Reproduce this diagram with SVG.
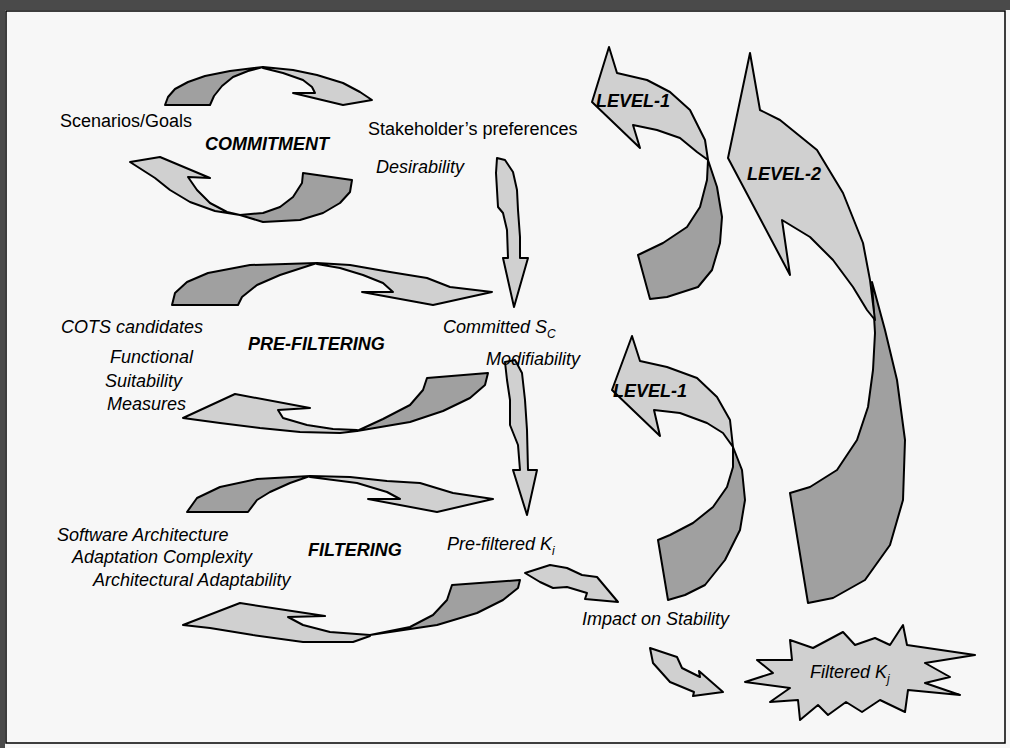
<svg xmlns="http://www.w3.org/2000/svg" width="1010" height="748" viewBox="0 0 1010 748">
<style>
.d{fill:#a0a0a0;stroke:#000;stroke-width:2;stroke-linejoin:round}
.l{fill:#d0d0d0;stroke:#000;stroke-width:2;stroke-linejoin:round}
text{font-family:"Liberation Sans",Arial,sans-serif;font-size:18px;fill:#000}
.i{font-style:italic}
.b{font-weight:bold;font-style:italic}
.s{font-size:12px}
</style>
<rect x="0" y="0" width="1010" height="748" fill="#f7f7f7"/>
<rect x="0" y="0" width="1010" height="10" fill="#4a4a4a"/>
<rect x="0" y="0" width="5" height="748" fill="#4a4a4a"/>
<rect x="6" y="11" width="999" height="732" fill="none" stroke="#000" stroke-width="1.5"/>

<g id="commitment-cycle">
<polygon class="d" points="165,105 168,97 175,89 188,82 205,76 230,71 263,67 248,71 233,77 222,86 214,96 210,105"/>
<polygon class="l" points="263,67 293,70 317,75 343,83 360,92 372,100 343,105 293,93 315,93 312,87 303,80 283,73 263,68"/>
<polygon class="d" points="303,173 352,180 350,192 340,203 323,213 300,220 263,222 240,215 263,213 280,207 293,197 302,183"/>
<polygon class="l" points="240,215 215,211 190,202 170,190 155,178 130,162 160,157 210,178 188,177 197,190 210,203 227,212 240,215"/>
</g>

<g id="prefiltering-cycle">
<polygon class="d" points="172,305 175,293 187,282 208,273 250,265 317,263 280,275 257,285 242,297 238,305"/>
<polygon class="l" points="317,263 350,265 390,272 427,278 450,287 492,292 433,305 362,292 393,292 383,283 363,275 340,268 317,264"/>
<polygon class="d" points="427,378 488,373 485,385 470,398 443,411 410,422 357,431 383,419 410,405 423,390"/>
<polygon class="l" points="357,431 340,433 300,432 260,428 220,423 183,418 235,394 310,408 278,410 283,418 307,425 333,429 357,430"/>
</g>

<g id="filtering-cycle">
<polygon class="d" points="187,512 197,498 220,487 257,479 310,476 290,483 270,492 257,500 248,512"/>
<polygon class="l" points="310,476 350,477 387,481 420,483 453,493 493,499 437,512 368,499 400,499 387,492 357,483 310,477"/>
<polygon class="d" points="452,585 520,580 518,588 503,600 477,613 437,625 370,635 410,627 433,615 447,600"/>
<polygon class="l" points="370,636 353,642 303,642 253,635 210,628 183,625 240,603 325,616 288,617 303,625 330,632 370,635"/>
</g>

<g id="connectors">
<polygon id="arrow-desirability" class="l" points="497,158 505,160 513,172 517,190 518,210 520,237 520,258 528,258 514,307 503,258 508,258 507,230 503,213 498,207 497,190 496,173"/>
<polygon id="arrow-modifiability" class="l" points="505,362 515,360 522,373 525,400 527,430 528,470 537,470 527,515 513,470 520,470 518,445 510,425 510,400 507,380"/>
<polygon id="arrow-impact-in" class="l" points="525,573 550,565 567,568 582,575 597,577 618,602 585,599 587,593 567,587 553,588 540,582"/>
<polygon id="arrow-impact-out" class="l" points="650,648 677,657 682,668 700,677 699,671 723,692 693,696 694,692 670,682 653,663"/>
</g>

<g id="level1-top">
<polygon class="d" points="708,160 717,187 722,217 720,243 712,270 698,287 667,297 650,299 638,255 663,243 687,227 700,207 707,180"/>
<polygon class="l" points="609,47 617,73 647,80 670,92 690,110 705,140 708,160 697,152 680,138 657,130 633,125 640,148 592,102"/>
<text class="b" x="596" y="107">LEVEL-1</text>
</g>

<g id="level2">
<polygon class="d" points="872,282 885,330 897,380 905,440 903,500 890,545 865,580 833,598 808,603 790,493 810,487 837,470 857,440 868,407 873,370 875,333"/>
<polygon class="l" points="750,53 760,110 780,120 817,150 843,193 863,243 870,280 875,320 867,310 853,287 833,260 810,237 782,220 790,275 728,158"/>
<text class="b" x="747" y="180">LEVEL-2</text>
</g>

<g id="level1-bottom">
<polygon class="d" points="733,447 742,470 745,500 740,530 725,560 705,585 685,595 668,600 658,540 670,535 693,523 713,507 727,487 733,467"/>
<polygon class="l" points="632,336 640,361 667,367 697,378 717,397 730,420 733,447 723,433 707,423 680,413 654,410 660,436 612,390"/>
<text class="b" x="613" y="397">LEVEL-1</text>
</g>

<g id="filtered-kj">
<polygon class="l" points="790,640 813,648 843,632 855,645 875,638 890,645 903,625 907,645 975,655 925,663 950,677 925,683 960,695 908,690 905,712 880,700 862,712 846,702 828,715 818,705 800,720 798,700 770,702 790,688 745,682 773,673 757,660 792,660"/>
<text class="i" x="810" y="678" fill="#222">Filtered K<tspan class="s" dy="5">j</tspan></text>
</g>

<g id="labels">
<text x="60" y="127">Scenarios/Goals</text>
<text class="b" x="205" y="150">COMMITMENT</text>
<text x="368" y="135">Stakeholder’s preferences</text>
<text class="i" x="376" y="173">Desirability</text>
<text class="i" x="61" y="333">COTS candidates</text>
<text class="b" x="248" y="350">PRE-FILTERING</text>
<text class="i" x="443" y="333">Committed S<tspan class="s" dy="5">C</tspan></text>
<text class="i" x="486" y="365">Modifiability</text>
<text class="i" x="110" y="363">Functional</text>
<text class="i" x="105" y="387">Suitability</text>
<text class="i" x="107" y="410">Measures</text>
<text class="i" x="57" y="541">Software Architecture</text>
<text class="i" x="72" y="563">Adaptation Complexity</text>
<text class="i" x="93" y="586">Architectural Adaptability</text>
<text class="b" x="308" y="556">FILTERING</text>
<text class="i" x="447" y="550">Pre-filtered K<tspan class="s" dy="5">i</tspan></text>
<text class="i" x="582" y="625">Impact on Stability</text>
</g>
</svg>
